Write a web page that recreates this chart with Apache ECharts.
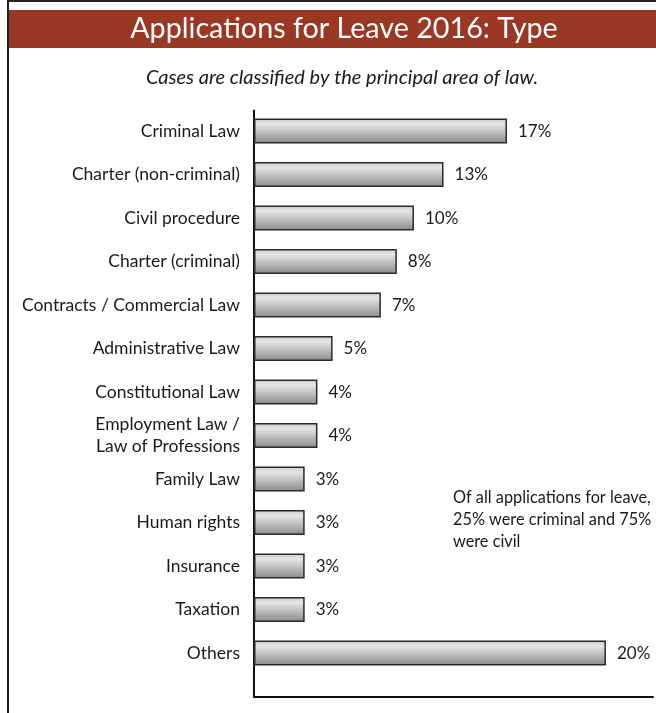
<!DOCTYPE html>
<html>
<head>
<meta charset="utf-8">
<script src="https://cdn.jsdelivr.net/npm/echarts@6/dist/echarts.min.js"></script>
<style>
html,body{margin:0;padding:0;background:#fff;}
#chart{width:656px;height:713px;}
</style>
</head>
<body>
<div id="chart"></div>
<script>
// Categories (top to bottom)
var categories = [
  'Criminal Law',
  'Charter (non-criminal)',
  'Civil procedure',
  'Charter (criminal)',
  'Contracts / Commercial Law',
  'Administrative Law',
  'Constitutional Law',
  'Employment Law /\nLaw of Professions',
  'Family Law',
  'Human rights',
  'Insurance',
  'Taxation',
  'Others'
];
// Bar lengths as drawn (relative scale, 0-100 spans the x axis)
var barLength = [63.4, 47.5, 40.1, 35.8, 31.8, 19.7, 15.9, 15.9, 12.7, 12.7, 12.7, 12.7, 88.2];
// Printed percentage labels
var pctLabels = ['17%', '13%', '10%', '8%', '7%', '5%', '4%', '4%', '3%', '3%', '3%', '3%', '20%'];

var titleText = 'Applications for Leave 2016: Type';
var subtitleText = 'Cases are classified by the principal area of law.';
var noteText = 'Of all applications for leave,\n25% were criminal and 75%\nwere civil';

var FONT = 'Lato, "Noto Sans", sans-serif';

var chart = echarts.init(document.getElementById('chart'), null, {renderer: 'canvas'});

var option = {
  backgroundColor: '#ffffff',
  animation: false,
  grid: [
    {left: 254, right: 3, top: 109.3, height: 565.5, containLabel: false},
    {left: 254, right: 3, top: 110.5, bottom: 16.5, containLabel: false}
  ],
  xAxis: [
    {type: 'value', gridIndex: 0, min: 0, max: 100, show: false},
    {type: 'value', gridIndex: 1, min: 0, max: 1,
      axisLine: {show: true, onZero: false, lineStyle: {color: '#111', width: 2}},
      axisTick: {show: false}, axisLabel: {show: false}, splitLine: {show: false}}
  ],
  yAxis: [
    {type: 'category', gridIndex: 0, data: categories, inverse: true,
      axisLine: {show: false}, axisTick: {show: false}, splitLine: {show: false},
      axisLabel: {show: true, margin: 14, color: '#1a1a1a', fontFamily: FONT, fontSize: 17.5,
        align: 'right', lineHeight: 22}},
    {type: 'value', gridIndex: 1, min: 0, max: 1,
      axisLine: {show: true, onZero: false, lineStyle: {color: '#111', width: 2}},
      axisTick: {show: false}, axisLabel: {show: false}, splitLine: {show: false}}
  ],
  series: [{
    type: 'bar',
    xAxisIndex: 0,
    yAxisIndex: 0,
    data: barLength,
    barWidth: 25,
    itemStyle: {
      color: new echarts.graphic.LinearGradient(0, 0, 0, 1, [
        {offset: 0, color: '#c9c9c9'},
        {offset: 0.22, color: '#e6e6e6'},
        {offset: 1, color: '#8a8a8a'}
      ]),
      borderColor: '#2a2a2a',
      borderWidth: 1.5
    },
    label: {
      show: true,
      position: 'right',
      distance: 11,
      color: '#1a1a1a',
      fontFamily: FONT,
      fontSize: 17,
      formatter: function (p) { return pctLabels[p.dataIndex]; }
    }
  }],
  graphic: [
    {type: 'rect', shape: {x: 8, y: 10, width: 648, height: 38}, style: {fill: '#9b3823'}, z: 0},
    {type: 'line', shape: {x1: 8, y1: 0, x2: 8, y2: 713}, style: {stroke: '#222', lineWidth: 2}},
    {type: 'line', shape: {x1: 8, y1: 1, x2: 656, y2: 1}, style: {stroke: '#222', lineWidth: 2}},
    {type: 'text', style: {text: titleText, x: 344, y: 29, align: 'center', verticalAlign: 'middle',
      fill: '#ffffff', font: '28.7px ' + FONT}, z: 10},
    {type: 'text', style: {text: subtitleText, x: 342, y: 78, align: 'center', verticalAlign: 'middle',
      fill: '#1a1a1a', font: 'italic 20px ' + FONT}, z: 10},
    {type: 'text', style: {text: noteText, x: 453, y: 487, align: 'left', verticalAlign: 'top',
      fill: '#1a1a1a', font: '16.3px ' + FONT, lineHeight: 22}, z: 10}
  ]
};
chart.setOption(option);
</script>
</body>
</html>
